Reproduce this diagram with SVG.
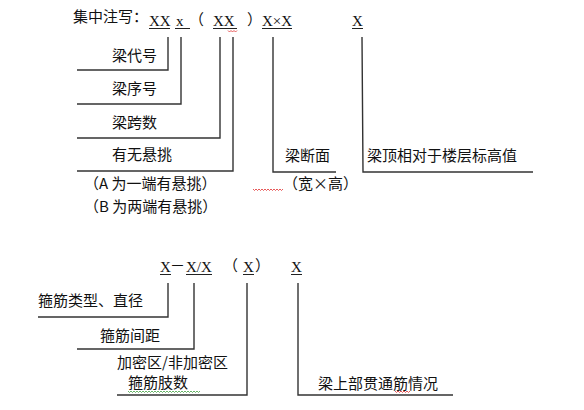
<svg xmlns="http://www.w3.org/2000/svg" width="584" height="410" viewBox="0 0 584 410">
<style>
.t{font-family:"Noto Sans CJK SC","Noto Sans",sans-serif;font-size:15px;fill:#111}
.x{font-family:"Liberation Serif",serif;font-size:15px;fill:#111}
.ln{stroke:#333;stroke-width:1.4;fill:none}
.ul{stroke:#222;stroke-width:1;fill:none}
.sq{stroke:#e03030;stroke-width:0.8;fill:none}
.sg{stroke:#40a040;stroke-width:0.8;fill:none}
</style>
<rect width="584" height="410" fill="#fff"/>
<g id="header">
<text class="t" x="73" y="22">集中注写：</text>
<text class="x" x="149" y="26">XX</text>
<text class="x" x="176" y="26">x</text>
<text class="t" x="189" y="25">（</text>
<text class="x" x="213" y="26">XX</text>
<text class="t" x="247" y="25">）</text>
<text class="x" x="262" y="26">X×X</text>
<text class="x" x="352" y="26">X</text>
<path class="ul" d="M149 28.5H170M175 28.5H190M213 28.5H237M262 28.5H292M352 28.5H363"/>
<path class="sq" d="M228 30.5l1.5 1.5 1.5-1.5 1.5 1.5 1.5-1.5 1.5 1.5 1.5-1.5"/>
</g>
<g id="connectors">
<path class="ln" d="M168 37V70H77"/>
<path class="ln" d="M181 37V104H77"/>
<path class="ln" d="M220 37V138H77"/>
<path class="ln" d="M233 37V171H77"/>
<path class="ln" d="M273 37V172H336"/>
<path class="ln" d="M362 37L363 172H533"/>
<path class="ln" d="M168 283V317H38"/>
<path class="ln" d="M194 283V349H77"/>
<path class="ln" d="M247 283V395H117"/>
<path class="ln" d="M298 283V395H453"/>
</g>
<g id="n-daihao"><text class="t" x="112" y="61">梁代号</text></g>
<g id="n-xuhao"><text class="t" x="112" y="94">梁序号</text></g>
<g id="n-kuashu"><text class="t" x="112" y="128">梁跨数</text></g>
<g id="n-xuantiao">
<text class="t" x="112" y="160">有无悬挑</text>
<text class="t" x="84" y="189">（A 为一端有悬挑）</text>
<text class="t" x="84" y="212">（B 为两端有悬挑）</text>
</g>
<g id="n-duanmian">
<text class="t" x="285" y="161">梁断面</text>
<text class="t" x="283" y="189">（宽×高）</text>
<path class="sq" d="M253 189l1.5 1.5 1.5-1.5 1.5 1.5 1.5-1.5 1.5 1.5 1.5-1.5 1.5 1.5 1.5-1.5 1.5 1.5 1.5-1.5 1.5 1.5 1.5-1.5 1.5 1.5 1.5-1.5 1.5 1.5 1.5-1.5 1.5 1.5 1.5-1.5 1.5 1.5 1.5-1.5"/>
</g>
<g id="n-biaogao"><text class="t" x="367" y="161">梁顶相对于楼层标高值</text></g>
<g id="stirrup-header">
<text class="x" x="160" y="272">X</text>
<text class="t" x="170" y="271">－</text>
<text class="x" x="186" y="272">X/X</text>
<text class="t" x="223" y="271">（</text>
<text class="x" x="243" y="272">X</text>
<text class="t" x="255" y="271">）</text>
<text class="x" x="291" y="272">X</text>
<path class="ul" d="M160 274.5H171M186 274.5H212M243 274.5H254M291 274.5H302"/>
</g>
<g id="n-leixing"><text class="t" x="38" y="306">箍筋类型、直径</text></g>
<g id="n-jianju"><text class="t" x="100" y="341">箍筋间距</text></g>
<g id="n-zhishu">
<text class="t" x="117" y="368">加密区/非加密区</text>
<text class="t" x="128" y="388">箍筋肢数</text>
<path class="sg" d="M128 391l1.5 1.5 1.5-1.5 1.5 1.5 1.5-1.5 1.5 1.5 1.5-1.5 1.5 1.5 1.5-1.5 1.5 1.5 1.5-1.5 1.5 1.5 1.5-1.5 1.5 1.5 1.5-1.5 1.5 1.5 1.5-1.5 1.5 1.5 1.5-1.5 1.5 1.5 1.5-1.5 1.5 1.5 1.5-1.5 1.5 1.5 1.5-1.5 1.5 1.5 1.5-1.5 1.5 1.5 1.5-1.5 1.5 1.5 1.5-1.5 1.5 1.5 1.5-1.5 1.5 1.5 1.5-1.5 1.5 1.5 1.5-1.5 1.5 1.5 1.5-1.5 1.5 1.5 1.5-1.5 1.5 1.5 1.5-1.5 1.5 1.5 1.5-1.5 1.5 1.5 1.5-1.5 1.5 1.5 1.5-1.5"/>
</g>
<g id="n-guantong">
<text class="t" x="318" y="389">梁上部贯通筋情况</text>
<path class="sq" d="M395 391l1.5 1.5 1.5-1.5 1.5 1.5 1.5-1.5 1.5 1.5 1.5-1.5 1.5 1.5 1.5-1.5 1.5 1.5 1.5-1.5"/>
</g>
</svg>
